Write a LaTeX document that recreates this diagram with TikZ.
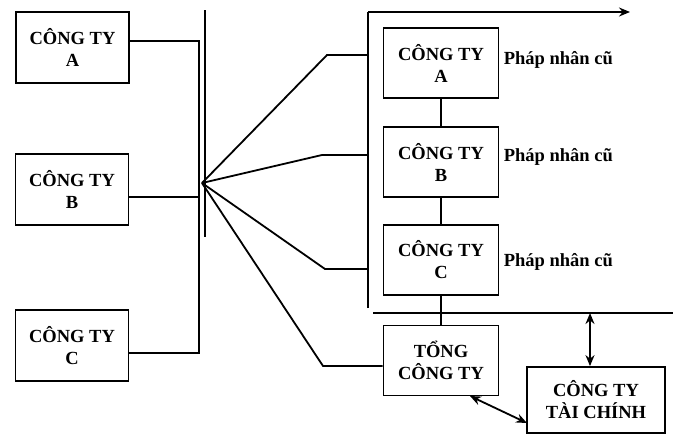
\documentclass[tikz,border=0pt]{standalone}
\usepackage{fontspec}
\setmainfont{Liberation Serif}
\usetikzlibrary{arrows.meta,calc}
\begin{document}
\begin{tikzpicture}[x=1pt,y=-1pt,
  line width=1.8pt,
  every node/.style={font=\bfseries\fontsize{18.5}{22}\selectfont},
  cbox/.style={draw,rectangle,align=center,inner sep=0pt,minimum width=113pt,minimum height=71pt},
  rbox/.style={draw,rectangle,align=center,inner sep=0pt,minimum width=115pt,minimum height=70pt},
  lbl/.style={anchor=west,inner sep=0pt,font=\bfseries\fontsize{18.5}{20}\selectfont},
  tip/.style={-{Stealth[length=11pt,width=9pt]}},
  dtip/.style={{Stealth[length=11pt,width=9pt]}-{Stealth[length=11pt,width=9pt]}}]
\useasboundingbox (0,0) rectangle (677,437);
% left companies
\node[cbox] (lA) at (72.5,47.5) {CÔNG TY\\A};
\node[cbox] (lB) at (72,189.5) {CÔNG TY\\B};
\node[cbox] (lC) at (72,345.5) {CÔNG TY\\C};
% right companies
\node[rbox] (rA) at (441,63) {CÔNG TY\\A};
\node[rbox] (rB) at (441,162) {CÔNG TY\\B};
\node[rbox] (rC) at (441,260) {CÔNG TY\\C};
\node[rbox] (T) at (441,360.5) {TỔNG\\CÔNG TY};
\node[draw,rectangle,align=center,inner sep=0pt,minimum width=138pt,minimum height=66pt] (F) at (596,400) {CÔNG TY\\TÀI CHÍNH};
% labels
\node[lbl] (pA) at (503,60) {Pháp nhân cũ};
\node[lbl] (pB) at (503,157) {Pháp nhân cũ};
\node[lbl] (pC) at (503,262) {Pháp nhân cũ};
% bus coordinates
\coordinate (bA) at (199,41);
\coordinate (bB) at (199,197);
\coordinate (bC) at (199,353);
\coordinate (v1) at (205,10);
\coordinate (v2) at (205,237);
\coordinate (fan) at (202,183);
\coordinate (k1) at (327,55);
\coordinate (k2) at (322,155);
\coordinate (k3) at (325,269);
\coordinate (k4) at (323,366);
\coordinate (rt) at (368,12);
\coordinate (rb) at (368,308);
\coordinate (ae) at (630,12);
\coordinate (h1) at (373,313);
\coordinate (h2) at (673,313);
\coordinate (d1) at (590,313);
\coordinate (t1) at (470,396);
\coordinate (t2) at (527,423);
% connectors
\draw (lA.east |- bA) -- (bA) -- (bC) -- (lC.east |- bC);
\draw (lB.east |- bB) -- (bB);
\draw (v1) -- (v2);
\draw (fan) -- (k1) -- (rt |- k1);
\draw (fan) -- (k2) -- (rt |- k2);
\draw (fan) -- (k3) -- (rt |- k3);
\draw (fan) -- (k4) -- (T.west |- k4);
\draw (rb) -- (rt);
\draw[tip] (rt) -- (ae);
\draw (rA) -- (rB);
\draw (rB) -- (rC);
\draw (rC) -- (T);
\draw (h1) -- (h2);
\draw[dtip] (d1) -- (d1 |- F.north);
\draw[dtip] (t1) -- (t2);
\end{tikzpicture}
\end{document}
